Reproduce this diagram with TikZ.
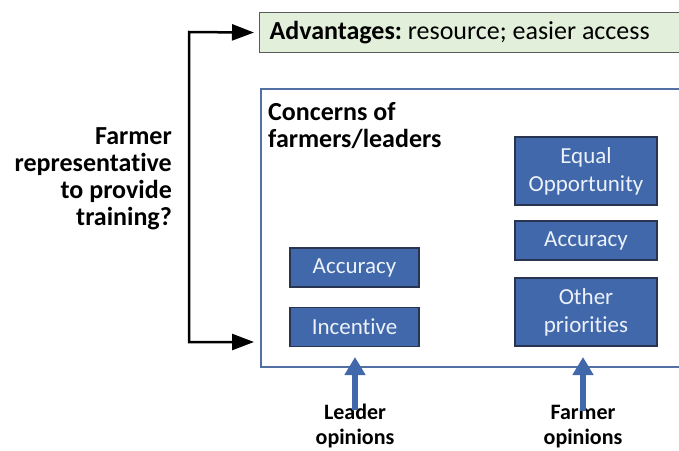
\documentclass[tikz,border=0pt]{standalone}
\usepackage{fontspec}
\setmainfont{Carlito}[RawFeature=-liga]
\usetikzlibrary{arrows.meta}
\frenchspacing
\definecolor{boxblue}{RGB}{64,104,170}
\definecolor{boxedge}{RGB}{40,52,80}
\definecolor{frameblue}{RGB}{82,112,162}
\definecolor{advgreen}{RGB}{226,239,218}
\definecolor{advedge}{RGB}{90,90,90}
\definecolor{boxtext}{RGB}{236,241,250}
\tikzset{
  concernbox/.style={draw=boxedge, fill=boxblue, line width=1.2pt, text=boxtext,
    font=\fontsize{23}{28}\selectfont, align=center, inner sep=0pt},
  sidelabel/.style={font=\bfseries\fontsize{26}{27}\selectfont, inner sep=0pt},
  opinion/.style={font=\bfseries\fontsize{22}{25}\selectfont, align=center, inner sep=0pt},
  bluearrow/.style={draw=boxblue, line width=6pt, -{Triangle[width=20pt,length=18pt]}},
  bracket/.style={draw=black, line width=2.5pt, {Triangle[width=16pt,length=22pt]}-{Triangle[width=16pt,length=22pt]}}
}
\begin{document}
\begin{tikzpicture}[x=1pt,y=-1pt]
\clip (0,0) rectangle (679,450);
\fill[white] (0,0) rectangle (679,450);
% green advantages box
\node[draw=advedge, fill=advgreen, line width=1.2pt, anchor=north west,
  minimum width=460pt, minimum height=40pt, inner sep=0pt, text width=440pt,
  align=flush left, font=\fontsize{26}{27}\selectfont] (adv) at (259,12)
  {\textbf{Advantages:} resource; easier access};
% big concerns frame
\node[draw=frameblue, line width=2pt, anchor=north west, minimum width=470pt,
  minimum height=278pt, inner sep=0pt] (frame) at (260,88) {};
\node[anchor=north west, align=left, inner sep=0pt,
  font=\bfseries\fontsize{26}{27}\selectfont] (title) at (268,102)
  {Concerns of\\farmers/leaders};
% left column
\node[concernbox, minimum width=129pt, minimum height=39pt] (lacc) at (354.5,267.5) {Accuracy};
\node[concernbox, minimum width=129pt, minimum height=39pt] (linc) at (354.5,327) {Incentive};
% right column
\node[concernbox, minimum width=142pt, minimum height=68pt] (req) at (586,171) {Equal\\Opportunity};
\node[concernbox, minimum width=142pt, minimum height=39pt] (racc) at (586,240.5) {Accuracy};
\node[concernbox, minimum width=142pt, minimum height=68pt] (roth) at (586,312) {Other\\priorities};
% left question
\node[sidelabel, anchor=east, align=right] (q) at (172,179)
  {Farmer\\representative\\to provide\\training?};
% bracket
\coordinate (b1) at (189,32);
\coordinate (b2) at (189,342);
\coordinate (b3) at (259,342);
\draw[bracket, shorten <=5pt, shorten >=5pt] (adv.west) -- (b1) -- (b2) -- (b3);
% opinions
\node[opinion, anchor=north] (lead) at (355,404) {Leader\\opinions};
\node[opinion, anchor=north] (farm) at (583,405) {Farmer\\opinions};
\coordinate (lt) at (355,357);
\coordinate (ft) at (583,357);
\draw[bluearrow] ([yshift=-6pt]lead.north) -- (lt);
\draw[bluearrow] ([yshift=-6pt]farm.north) -- (ft);
\end{tikzpicture}
\end{document}
